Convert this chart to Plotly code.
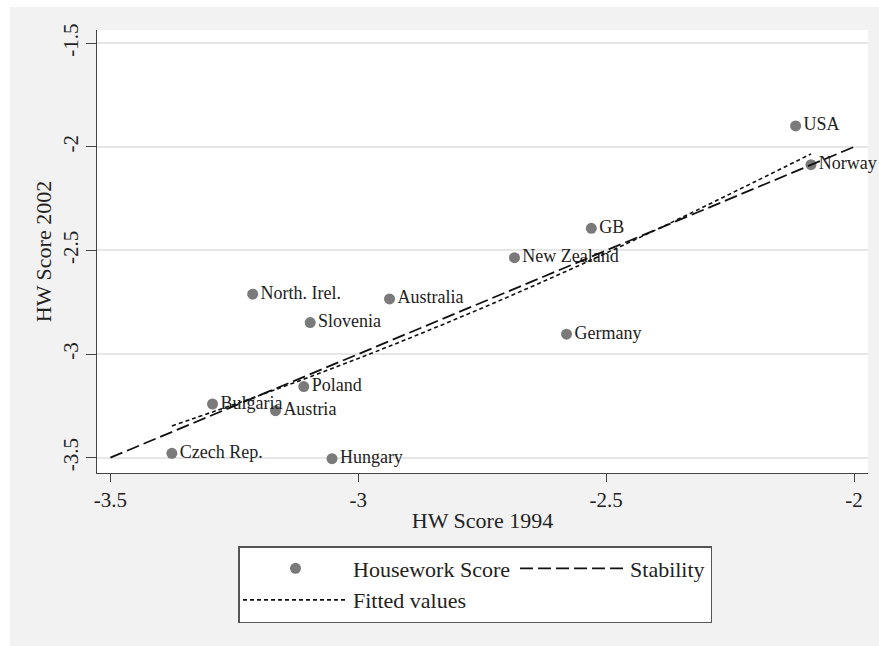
import plotly.graph_objects as go

countries = ["USA", "Norway", "GB", "New Zealand", "Germany", "North. Irel.", "Australia",
             "Slovenia", "Poland", "Bulgaria", "Austria", "Czech Rep.", "Hungary"]
hw_1994 = [-2.118, -2.087, -2.530, -2.685, -2.580, -3.213, -2.937,
           -3.097, -3.110, -3.294, -3.167, -3.376, -3.053]
hw_2002 = [-1.899, -2.086, -2.393, -2.535, -2.904, -2.711, -2.734,
           -2.848, -3.157, -3.241, -3.273, -3.479, -3.505]

stability_x = [-3.5, -2.0]
stability_y = [-3.5, -2.0]

# fitted values curve, read at several points along the dotted line
fitted_x = [-3.376, -3.2, -3.0, -2.8, -2.6, -2.4, -2.2, -2.087]
fitted_y = [-3.347, -3.200, -3.021, -2.828, -2.621, -2.401, -2.168, -2.034]

x_ticks = [-3.5, -3, -2.5, -2]
x_tick_labels = ["-3.5", "-3", "-2.5", "-2"]
y_ticks = [-3.5, -3, -2.5, -2, -1.5]
y_tick_labels = ["-3.5", "-3", "-2.5", "-2", "-1.5"]

FONT = "Liberation Serif, Times New Roman, serif"
W, H = 879, 646
ML, MR, MT, MB = 97, 11, 30, 173
PW = W - ML - MR
PH = H - MT - MB

fig = go.Figure()
fig.add_trace(go.Scatter(
    x=hw_1994, y=hw_2002, mode="markers+text", text=countries,
    textposition="middle right", textfont=dict(family=FONT, size=18, color="#222"),
    marker=dict(size=11, color="#7a7a7a"), name="Housework Score", cliponaxis=False,
    legendgroup="left", legendrank=1))
fig.add_trace(go.Scatter(
    x=stability_x, y=stability_y, mode="lines", name="Stability",
    line=dict(color="#111", width=1.8, dash="13px,5px"),
    legendgroup="right", legendrank=3))
fig.add_trace(go.Scatter(
    x=fitted_x, y=fitted_y, mode="lines", name="Fitted values",
    line=dict(color="#111", width=1.6, dash="4px,3px", shape="spline"),
    legendgroup="left", legendrank=2))

shapes = [
    dict(type="rect", xref="paper", yref="paper", layer="below",
         x0=(10 - ML) / PW, x1=(W + 5 - ML) / PW,
         y0=-(H + 5 - MT - PH) / PH, y1=(PH + MT - 7) / PH,
         fillcolor="#f2f2f2", line=dict(width=0)),
    dict(type="rect", xref="paper", yref="paper", layer="below",
         x0=0, x1=1, y0=0, y1=1, fillcolor="white", line=dict(width=0)),
]

fig.update_layout(
    width=W, height=H,
    margin=dict(l=ML, r=MR, t=MT, b=MB, autoexpand=False),
    paper_bgcolor="white", plot_bgcolor="white",
    font=dict(family=FONT, size=21, color="#222"),
    shapes=shapes,
    showlegend=True,
    legend=dict(orientation="h", x=(238 - ML) / PW, y=-(546 - MT - PH) / PH,
                xanchor="left", yanchor="top",
                bgcolor="white", bordercolor="#555", borderwidth=1.5,
                font=dict(family=FONT, size=22, color="#222"),
                itemwidth=105, traceorder="grouped", tracegroupgap=0),
    xaxis=dict(range=[-3.527, -1.972], tickvals=x_ticks, ticktext=x_tick_labels,
               automargin=False,
               showgrid=False, zeroline=False, showline=True, linecolor="#444", linewidth=1.2,
               ticks="outside", ticklen=8, tickcolor="#444", tickwidth=1.2,
               tickfont=dict(size=21),
               title=dict(text="HW Score 1994", font=dict(size=22), standoff=1)),
    yaxis=dict(range=[-3.574, -1.436], tickvals=y_ticks, ticktext=y_tick_labels,
               tickangle=-90, automargin=False,
               showgrid=True, gridcolor="#e6e6e6", gridwidth=1.5,
               zeroline=False, showline=True, linecolor="#444", linewidth=1.2,
               ticks="outside", ticklen=10, tickcolor="#444", tickwidth=1.2,
               tickfont=dict(size=21),
               title=dict(text="HW Score 2002", font=dict(size=22), standoff=0)),
)

fig.write_html("out.html", config={"displayModeBar": False},
               post_script="document.body.style.margin='0px';")
